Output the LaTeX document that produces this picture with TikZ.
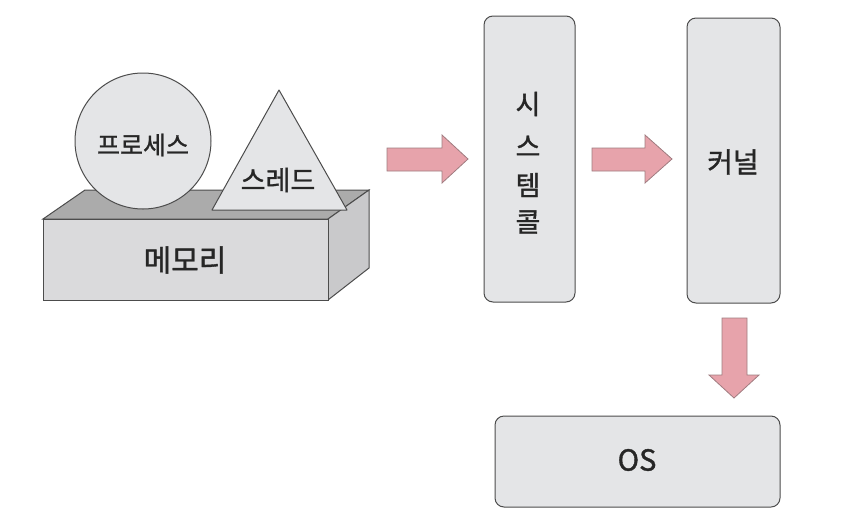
\documentclass[tikz,border=0pt]{standalone}
\usepackage{fontspec}
\newfontfamily\kr[FakeBold=1.2]{Noto Sans CJK KR}
\begin{document}
\begin{tikzpicture}[x=1pt,y=-1pt,
  outl/.style={draw=black!70, line width=1pt},
  boxst/.style={outl, fill=boxgray, rounded corners=9pt},
  arr/.style={draw=pinkedge, fill=pinkfill, line width=0.8pt, line join=miter},
  lbl/.style={font=\kr\fontsize{25}{27}\selectfont, text=black!85}]
\definecolor{boxgray}{HTML}{E4E5E7}
\definecolor{pinkfill}{HTML}{E7A3AB}
\definecolor{pinkedge}{HTML}{A07C80}
\definecolor{topgray}{HTML}{ABABAB}
\definecolor{sidegray}{HTML}{C9C9CB}
\definecolor{frontgray}{HTML}{DADADC}
\useasboundingbox (0,0) rectangle (864,528);
% memory block
\draw[outl, fill=topgray] (43,219) -- (85,190) -- (369,190) -- (328,219) -- cycle;
\draw[outl, fill=sidegray] (328,219) -- (369,190) -- (369,268) -- (328,300) -- cycle;
\draw[outl, fill=frontgray] (43,219) rectangle (328,300);
\node[lbl, font=\kr\fontsize{30}{32}\selectfont] (mem) at (185,260) {메모리};
% process circle
\node[outl, fill=boxgray, circle, minimum size=136pt, inner sep=0pt] (proc) at (143,141) {};
\node[lbl] (proct) at (143,145) {프로세스};
% thread triangle
\draw[outl, fill=boxgray, line join=round] (279,90) -- (347,210) -- (212,210) -- cycle;
\node[lbl, font=\kr\fontsize{27}{29}\selectfont] (thr) at (278,180) {스레드};
% system call box
\node[boxst, minimum width=91pt, minimum height=286pt, inner sep=0pt] (sys) at (529.5,159) {};
\node[lbl, font=\kr\fontsize{27}{29}\selectfont] (s1) at (528,104) {시};
\node[lbl, font=\kr\fontsize{27}{29}\selectfont] (s2) at (528,146) {스};
\node[lbl, font=\kr\fontsize{27}{29}\selectfont] (s3) at (528,185) {템};
\node[lbl, font=\kr\fontsize{27}{29}\selectfont] (s4) at (528,222) {콜};
% kernel box
\node[boxst, minimum width=93pt, minimum height=285pt, inner sep=0pt] (ker) at (733.5,160.5) {};
\node[lbl, font=\kr\fontsize{28}{30}\selectfont] (kert) at (733,162) {커널};
% OS box
\node[boxst, minimum width=285pt, minimum height=91pt, inner sep=0pt] (os) at (637.5,461.5) {};
\node[lbl, font=\kr\fontsize{29}{31}\selectfont] (ost) at (637,460) {OS};
% arrows
\draw[arr] (387,148) -- (442,148) -- (442,135) -- (468,159) -- (442,183) -- (442,171) -- (387,171) -- cycle;
\draw[arr] (592,148) -- (645,148) -- (645,135) -- (672,159) -- (645,183) -- (645,171) -- (592,171) -- cycle;
\draw[arr] (722,318) -- (747,318) -- (747,375) -- (759,375) -- (734,398) -- (709,375) -- (722,375) -- cycle;
\end{tikzpicture}
\end{document}
